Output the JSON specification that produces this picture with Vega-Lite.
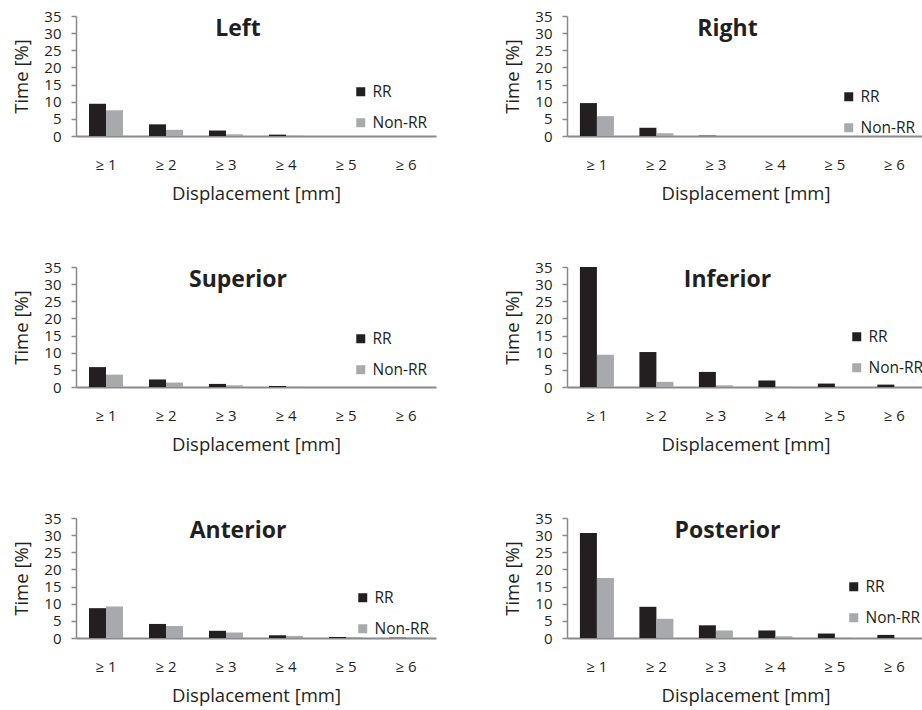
{
  "$schema": "https://vega.github.io/schema/vega-lite/v6.json",
  "padding": {"left": 12, "top": 9, "right": 0, "bottom": 6},
  "background": "white",
  "data": {
    "values": [
      {"panel": "Left", "bin": "≥ 1", "group": "RR", "value": 9.4},
      {"panel": "Left", "bin": "≥ 2", "group": "RR", "value": 3.4},
      {"panel": "Left", "bin": "≥ 3", "group": "RR", "value": 1.6},
      {"panel": "Left", "bin": "≥ 4", "group": "RR", "value": 0.4},
      {"panel": "Left", "bin": "≥ 5", "group": "RR", "value": 0},
      {"panel": "Left", "bin": "≥ 6", "group": "RR", "value": 0},
      {"panel": "Left", "bin": "≥ 1", "group": "Non-RR", "value": 7.5},
      {"panel": "Left", "bin": "≥ 2", "group": "Non-RR", "value": 1.8},
      {"panel": "Left", "bin": "≥ 3", "group": "Non-RR", "value": 0.5},
      {"panel": "Left", "bin": "≥ 4", "group": "Non-RR", "value": 0.1},
      {"panel": "Left", "bin": "≥ 5", "group": "Non-RR", "value": 0},
      {"panel": "Left", "bin": "≥ 6", "group": "Non-RR", "value": 0},

      {"panel": "Right", "bin": "≥ 1", "group": "RR", "value": 9.6},
      {"panel": "Right", "bin": "≥ 2", "group": "RR", "value": 2.4},
      {"panel": "Right", "bin": "≥ 3", "group": "RR", "value": 0.1},
      {"panel": "Right", "bin": "≥ 4", "group": "RR", "value": 0},
      {"panel": "Right", "bin": "≥ 5", "group": "RR", "value": 0},
      {"panel": "Right", "bin": "≥ 6", "group": "RR", "value": 0},
      {"panel": "Right", "bin": "≥ 1", "group": "Non-RR", "value": 5.8},
      {"panel": "Right", "bin": "≥ 2", "group": "Non-RR", "value": 0.8},
      {"panel": "Right", "bin": "≥ 3", "group": "Non-RR", "value": 0},
      {"panel": "Right", "bin": "≥ 4", "group": "Non-RR", "value": 0},
      {"panel": "Right", "bin": "≥ 5", "group": "Non-RR", "value": 0},
      {"panel": "Right", "bin": "≥ 6", "group": "Non-RR", "value": 0},

      {"panel": "Superior", "bin": "≥ 1", "group": "RR", "value": 5.8},
      {"panel": "Superior", "bin": "≥ 2", "group": "RR", "value": 2.2},
      {"panel": "Superior", "bin": "≥ 3", "group": "RR", "value": 0.9},
      {"panel": "Superior", "bin": "≥ 4", "group": "RR", "value": 0.3},
      {"panel": "Superior", "bin": "≥ 5", "group": "RR", "value": 0},
      {"panel": "Superior", "bin": "≥ 6", "group": "RR", "value": 0},
      {"panel": "Superior", "bin": "≥ 1", "group": "Non-RR", "value": 3.6},
      {"panel": "Superior", "bin": "≥ 2", "group": "Non-RR", "value": 1.3},
      {"panel": "Superior", "bin": "≥ 3", "group": "Non-RR", "value": 0.5},
      {"panel": "Superior", "bin": "≥ 4", "group": "Non-RR", "value": 0.1},
      {"panel": "Superior", "bin": "≥ 5", "group": "Non-RR", "value": 0},
      {"panel": "Superior", "bin": "≥ 6", "group": "Non-RR", "value": 0},

      {"panel": "Inferior", "bin": "≥ 1", "group": "RR", "value": 35},
      {"panel": "Inferior", "bin": "≥ 2", "group": "RR", "value": 10.2},
      {"panel": "Inferior", "bin": "≥ 3", "group": "RR", "value": 4.4},
      {"panel": "Inferior", "bin": "≥ 4", "group": "RR", "value": 1.9},
      {"panel": "Inferior", "bin": "≥ 5", "group": "RR", "value": 1.0},
      {"panel": "Inferior", "bin": "≥ 6", "group": "RR", "value": 0.7},
      {"panel": "Inferior", "bin": "≥ 1", "group": "Non-RR", "value": 9.4},
      {"panel": "Inferior", "bin": "≥ 2", "group": "Non-RR", "value": 1.5},
      {"panel": "Inferior", "bin": "≥ 3", "group": "Non-RR", "value": 0.5},
      {"panel": "Inferior", "bin": "≥ 4", "group": "Non-RR", "value": 0.1},
      {"panel": "Inferior", "bin": "≥ 5", "group": "Non-RR", "value": 0},
      {"panel": "Inferior", "bin": "≥ 6", "group": "Non-RR", "value": 0},

      {"panel": "Anterior", "bin": "≥ 1", "group": "RR", "value": 8.7},
      {"panel": "Anterior", "bin": "≥ 2", "group": "RR", "value": 4.1},
      {"panel": "Anterior", "bin": "≥ 3", "group": "RR", "value": 2.1},
      {"panel": "Anterior", "bin": "≥ 4", "group": "RR", "value": 0.8},
      {"panel": "Anterior", "bin": "≥ 5", "group": "RR", "value": 0.3},
      {"panel": "Anterior", "bin": "≥ 6", "group": "RR", "value": 0.1},
      {"panel": "Anterior", "bin": "≥ 1", "group": "Non-RR", "value": 9.2},
      {"panel": "Anterior", "bin": "≥ 2", "group": "Non-RR", "value": 3.5},
      {"panel": "Anterior", "bin": "≥ 3", "group": "Non-RR", "value": 1.6},
      {"panel": "Anterior", "bin": "≥ 4", "group": "Non-RR", "value": 0.6},
      {"panel": "Anterior", "bin": "≥ 5", "group": "Non-RR", "value": 0.3},
      {"panel": "Anterior", "bin": "≥ 6", "group": "Non-RR", "value": 0.2},

      {"panel": "Posterior", "bin": "≥ 1", "group": "RR", "value": 30.6},
      {"panel": "Posterior", "bin": "≥ 2", "group": "RR", "value": 9.1},
      {"panel": "Posterior", "bin": "≥ 3", "group": "RR", "value": 3.7},
      {"panel": "Posterior", "bin": "≥ 4", "group": "RR", "value": 2.2},
      {"panel": "Posterior", "bin": "≥ 5", "group": "RR", "value": 1.3},
      {"panel": "Posterior", "bin": "≥ 6", "group": "RR", "value": 0.9},
      {"panel": "Posterior", "bin": "≥ 1", "group": "Non-RR", "value": 17.5},
      {"panel": "Posterior", "bin": "≥ 2", "group": "Non-RR", "value": 5.6},
      {"panel": "Posterior", "bin": "≥ 3", "group": "Non-RR", "value": 2.2},
      {"panel": "Posterior", "bin": "≥ 4", "group": "Non-RR", "value": 0.5},
      {"panel": "Posterior", "bin": "≥ 5", "group": "Non-RR", "value": 0.1},
      {"panel": "Posterior", "bin": "≥ 6", "group": "Non-RR", "value": 0}
    ]
  },
  "columns": 2,
  "spacing": {"row": 131, "column": 131},
  "bounds": "flush",
  "resolve": {"legend": {"color": "independent"}},
  "concat": [
    {
      "title": {"text": "Left"},
      "width": 360, "height": 120,
      "transform": [{"filter": "datum.panel === 'Left'"}],
      "mark": {"type": "bar"},
      "encoding": {
        "x": {"field": "bin", "type": "nominal", "sort": ["≥ 1", "≥ 2", "≥ 3", "≥ 4", "≥ 5", "≥ 6"], "scale": {"paddingInner": 0.433, "paddingOuter": 0.217}, "title": "Displacement [mm]"},
        "xOffset": {"field": "group", "type": "nominal", "sort": ["RR", "Non-RR"], "scale": {"paddingInner": 0, "paddingOuter": 0}},
        "y": {"field": "value", "type": "quantitative", "scale": {"domain": [0, 35], "nice": false}, "axis": {"values": [0, 5, 10, 15, 20, 25, 30, 35]}, "title": "Time [%]"},
        "color": {"field": "group", "type": "nominal", "sort": ["RR", "Non-RR"], "scale": {"domain": ["RR", "Non-RR"], "range": ["#231f20", "#a7a9ac"]}, "legend": {"orient": "none", "title": null, "legendX": 277, "legendY": 68}}
      }
    },
    {
      "title": {"text": "Right"},
      "width": 357, "height": 120,
      "transform": [{"filter": "datum.panel === 'Right'"}],
      "mark": {"type": "bar"},
      "encoding": {
        "x": {"field": "bin", "type": "nominal", "sort": ["≥ 1", "≥ 2", "≥ 3", "≥ 4", "≥ 5", "≥ 6"], "scale": {"paddingInner": 0.433, "paddingOuter": 0.217}, "title": "Displacement [mm]"},
        "xOffset": {"field": "group", "type": "nominal", "sort": ["RR", "Non-RR"], "scale": {"paddingInner": 0, "paddingOuter": 0}},
        "y": {"field": "value", "type": "quantitative", "scale": {"domain": [0, 35], "nice": false}, "axis": {"values": [0, 5, 10, 15, 20, 25, 30, 35]}, "title": "Time [%]"},
        "color": {"field": "group", "type": "nominal", "sort": ["RR", "Non-RR"], "scale": {"domain": ["RR", "Non-RR"], "range": ["#231f20", "#a7a9ac"]}, "legend": {"orient": "none", "title": null, "legendX": 274, "legendY": 73}}
      }
    },
    {
      "title": {"text": "Superior"},
      "width": 360, "height": 120,
      "transform": [{"filter": "datum.panel === 'Superior'"}],
      "mark": {"type": "bar"},
      "encoding": {
        "x": {"field": "bin", "type": "nominal", "sort": ["≥ 1", "≥ 2", "≥ 3", "≥ 4", "≥ 5", "≥ 6"], "scale": {"paddingInner": 0.433, "paddingOuter": 0.217}, "title": "Displacement [mm]"},
        "xOffset": {"field": "group", "type": "nominal", "sort": ["RR", "Non-RR"], "scale": {"paddingInner": 0, "paddingOuter": 0}},
        "y": {"field": "value", "type": "quantitative", "scale": {"domain": [0, 35], "nice": false}, "axis": {"values": [0, 5, 10, 15, 20, 25, 30, 35]}, "title": "Time [%]"},
        "color": {"field": "group", "type": "nominal", "sort": ["RR", "Non-RR"], "scale": {"domain": ["RR", "Non-RR"], "range": ["#231f20", "#a7a9ac"]}, "legend": {"orient": "none", "title": null, "legendX": 277, "legendY": 64}}
      }
    },
    {
      "title": {"text": "Inferior"},
      "width": 357, "height": 120,
      "transform": [{"filter": "datum.panel === 'Inferior'"}],
      "mark": {"type": "bar"},
      "encoding": {
        "x": {"field": "bin", "type": "nominal", "sort": ["≥ 1", "≥ 2", "≥ 3", "≥ 4", "≥ 5", "≥ 6"], "scale": {"paddingInner": 0.433, "paddingOuter": 0.217}, "title": "Displacement [mm]"},
        "xOffset": {"field": "group", "type": "nominal", "sort": ["RR", "Non-RR"], "scale": {"paddingInner": 0, "paddingOuter": 0}},
        "y": {"field": "value", "type": "quantitative", "scale": {"domain": [0, 35], "nice": false}, "axis": {"values": [0, 5, 10, 15, 20, 25, 30, 35]}, "title": "Time [%]"},
        "color": {"field": "group", "type": "nominal", "sort": ["RR", "Non-RR"], "scale": {"domain": ["RR", "Non-RR"], "range": ["#231f20", "#a7a9ac"]}, "legend": {"orient": "none", "title": null, "legendX": 282, "legendY": 62}}
      }
    },
    {
      "title": {"text": "Anterior"},
      "width": 360, "height": 120,
      "transform": [{"filter": "datum.panel === 'Anterior'"}],
      "mark": {"type": "bar"},
      "encoding": {
        "x": {"field": "bin", "type": "nominal", "sort": ["≥ 1", "≥ 2", "≥ 3", "≥ 4", "≥ 5", "≥ 6"], "scale": {"paddingInner": 0.433, "paddingOuter": 0.217}, "title": "Displacement [mm]"},
        "xOffset": {"field": "group", "type": "nominal", "sort": ["RR", "Non-RR"], "scale": {"paddingInner": 0, "paddingOuter": 0}},
        "y": {"field": "value", "type": "quantitative", "scale": {"domain": [0, 35], "nice": false}, "axis": {"values": [0, 5, 10, 15, 20, 25, 30, 35]}, "title": "Time [%]"},
        "color": {"field": "group", "type": "nominal", "sort": ["RR", "Non-RR"], "scale": {"domain": ["RR", "Non-RR"], "range": ["#231f20", "#a7a9ac"]}, "legend": {"orient": "none", "title": null, "legendX": 279, "legendY": 72}}
      }
    },
    {
      "title": {"text": "Posterior"},
      "width": 357, "height": 120,
      "transform": [{"filter": "datum.panel === 'Posterior'"}],
      "mark": {"type": "bar"},
      "encoding": {
        "x": {"field": "bin", "type": "nominal", "sort": ["≥ 1", "≥ 2", "≥ 3", "≥ 4", "≥ 5", "≥ 6"], "scale": {"paddingInner": 0.433, "paddingOuter": 0.217}, "title": "Displacement [mm]"},
        "xOffset": {"field": "group", "type": "nominal", "sort": ["RR", "Non-RR"], "scale": {"paddingInner": 0, "paddingOuter": 0}},
        "y": {"field": "value", "type": "quantitative", "scale": {"domain": [0, 35], "nice": false}, "axis": {"values": [0, 5, 10, 15, 20, 25, 30, 35]}, "title": "Time [%]"},
        "color": {"field": "group", "type": "nominal", "sort": ["RR", "Non-RR"], "scale": {"domain": ["RR", "Non-RR"], "range": ["#231f20", "#a7a9ac"]}, "legend": {"orient": "none", "title": null, "legendX": 279, "legendY": 61}}
      }
    }
  ],
  "config": {
    "font": "Open Sans",
    "view": {"stroke": null},
    "axis": {
      "grid": false,
      "domainColor": "#898989",
      "tickColor": "#898989",
      "labelColor": "#231f20",
      "titleColor": "#231f20",
      "labelFont": "Open Sans",
      "titleFont": "Open Sans",
      "labelFontSize": 15,
      "titleFontSize": 18.5,
      "titleFontWeight": "normal"
    },
    "axisX": {"domainWidth": 2, "ticks": false, "tickSize": 0, "labelPadding": 21, "titlePadding": 12, "labelAngle": 0},
    "axisY": {"domainWidth": 1.5, "tickSize": 5, "tickWidth": 1.5, "labelPadding": 10, "titlePadding": 12},
    "legend": {
      "symbolType": "square",
      "symbolSize": 81,
      "symbolStrokeWidth": 0,
      "labelFont": "Open Sans",
      "labelFontSize": 15.5,
      "labelColor": "#231f20",
      "labelOffset": 4,
      "rowPadding": 14,
      "padding": 0
    },
    "title": {
      "font": "Open Sans",
      "fontSize": 23,
      "fontWeight": "bold",
      "color": "#231f20",
      "anchor": "middle",
      "frame": "group",
      "dx": -18,
      "offset": -32
    }
  }
}
